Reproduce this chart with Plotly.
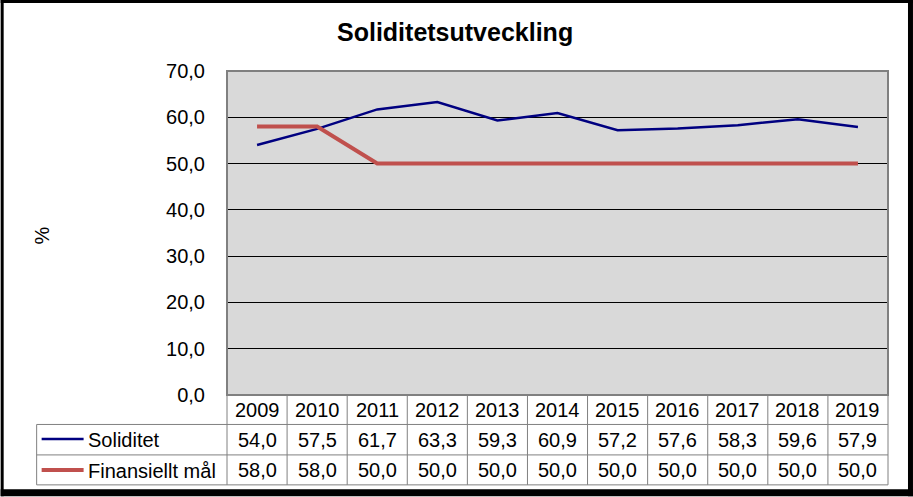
import plotly.graph_objects as go

years = ["2009", "2010", "2011", "2012", "2013", "2014", "2015", "2016", "2017", "2018", "2019"]
soliditet = [54.0, 57.5, 61.7, 63.3, 59.3, 60.9, 57.2, 57.6, 58.3, 59.6, 57.9]
finansiellt_mal = [58.0, 58.0, 50.0, 50.0, 50.0, 50.0, 50.0, 50.0, 50.0, 50.0, 50.0]
series_names = ["Soliditet", "Finansiellt mål"]
series_colors = ["#000080", "#C0504D"]
series_widths = [2.5, 4]
title = "Soliditetsutveckling"
y_title = "%"

W, H = 913, 497
L, R, T, B = 226.5, 888, 71, 395.5
FONT = "Arial, Liberation Sans, sans-serif"
FS = 20

def px(x):
    return (x - L) / (R - L)

def py(y):
    return (B - y) / (B - T)

fig = go.Figure()
for name, vals, col, w in zip(series_names, [soliditet, finansiellt_mal], series_colors, series_widths):
    fig.add_trace(go.Scatter(x=years, y=vals, mode="lines", name=name,
                             line=dict(color=col, width=w), hoverinfo="skip"))

shapes = []
ann = []
grid = "#808080"
# outer frame (thin left/top, heavier right/bottom)
for (x0, x1, y0, y1) in [(0, 3, 0, 497), (0, 913, 0, 3), (908, 913, 0, 497), (0, 913, 490, 497)]:
    shapes.append(dict(type="rect", xref="paper", yref="paper", x0=px(x0), x1=px(x1), y0=py(y0), y1=py(y1),
                       line=dict(width=0), fillcolor="black", layer="above"))
# plot area border
shapes.append(dict(type="rect", xref="paper", yref="paper", x0=0, x1=1, y0=0, y1=1,
                   line=dict(color=grid, width=2), layer="above"))
# table
row_y = [B, 425, 455.5, 485.5]
ncol = len(years)
colw = (R - L) / ncol
for i in range(ncol + 1):
    x = L + i * colw
    shapes.append(dict(type="line", xref="paper", yref="paper", x0=px(x), x1=px(x), y0=py(row_y[0]), y1=py(row_y[-1]),
                       line=dict(color=grid, width=1)))
shapes.append(dict(type="line", xref="paper", yref="paper", x0=px(36), x1=px(36), y0=py(row_y[1]), y1=py(row_y[-1]),
                   line=dict(color=grid, width=1)))
for y in row_y[1:]:
    shapes.append(dict(type="line", xref="paper", yref="paper", x0=px(36), x1=px(R), y0=py(y), y1=py(y),
                       line=dict(color=grid, width=1)))

def fmt(v):
    return f"{v:.1f}".replace(".", ",")

for i, yr in enumerate(years):
    cx = L + (i + 0.5) * colw
    ann.append(dict(x=px(cx), y=py(410.5), text=yr))
    ann.append(dict(x=px(cx), y=py(440.5), text=fmt(soliditet[i])))
    ann.append(dict(x=px(cx), y=py(471), text=fmt(finansiellt_mal[i])))

for name, col, w, yy in zip(series_names, series_colors, series_widths, [439.5, 470.5]):
    shapes.append(dict(type="line", xref="paper", yref="paper", x0=px(41), x1=px(83), y0=py(yy), y1=py(yy),
                       line=dict(color=col, width=w)))
    ann.append(dict(x=px(85), y=py(yy + 1), text=name, xanchor="left"))

full_ann = []
for a in ann:
    d = dict(xref="paper", yref="paper", showarrow=False, yanchor="middle",
             font=dict(family=FONT, size=FS, color="black"))
    d.setdefault("xanchor", "center")
    d.update(a)
    full_ann.append(d)

full_ann.append(dict(xref="paper", yref="paper", x=px(455), y=py(32), text=f"<b>{title}</b>", showarrow=False,
                     xanchor="center", yanchor="middle", font=dict(family=FONT, size=25, color="black")))
full_ann.append(dict(xref="paper", yref="paper", x=px(41), y=py(236), text=y_title, showarrow=False, textangle=-90,
                     xanchor="center", yanchor="middle", font=dict(family=FONT, size=FS, color="black")))

fig.update_layout(
    width=W, height=H,
    margin=dict(l=L, r=W - R, t=T, b=H - B, pad=0),
    paper_bgcolor="white", plot_bgcolor="#D9D9D9",
    showlegend=False, separators=", ",
    shapes=shapes, annotations=full_ann,
    font=dict(family=FONT, size=FS, color="black"),
)
fig.update_xaxes(type="category", range=[-0.5, ncol - 0.5], showticklabels=False, showgrid=False,
                 zeroline=False, showline=False)
fig.update_yaxes(range=[0, 70], dtick=10, tickformat=".1f", showgrid=True, gridcolor="black", gridwidth=1,
                 zeroline=False, showline=False, ticks="", ticklabelstandoff=21,
                 tickfont=dict(family=FONT, size=FS, color="black"))

fig.write_html("out.html", config={"displayModeBar": False},
               post_script="document.body.style.margin='0';document.body.style.overflow='hidden';")
